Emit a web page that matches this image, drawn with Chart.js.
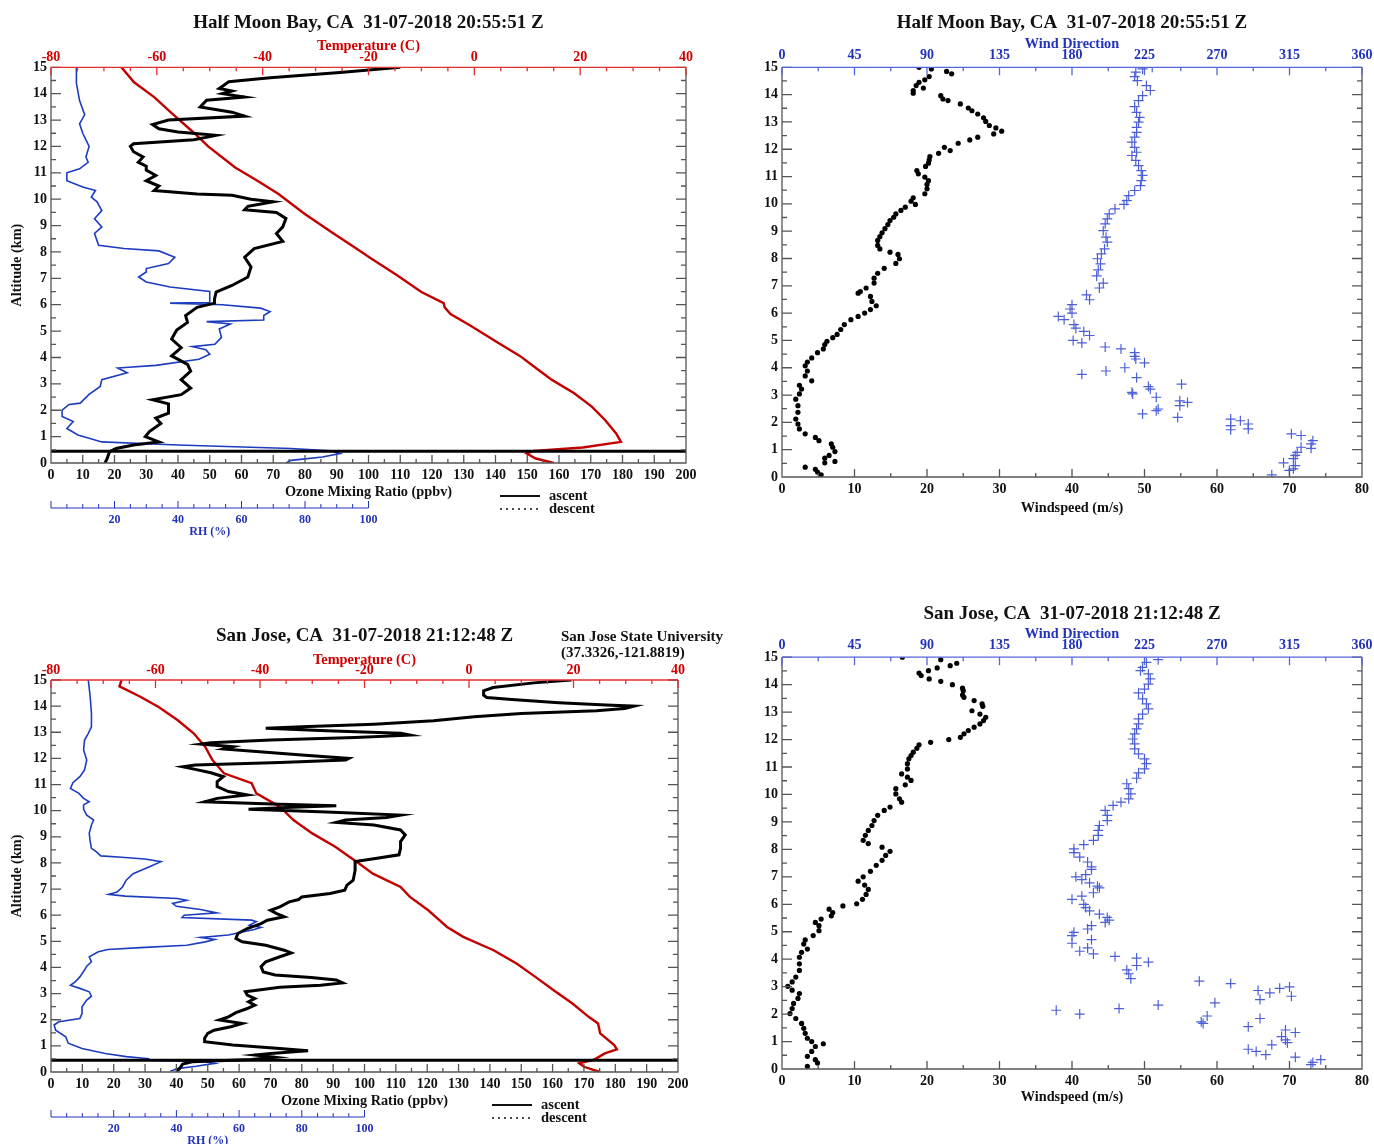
<!DOCTYPE html>
<html>
<head>
<meta charset="utf-8">
<script src="https://cdn.jsdelivr.net/npm/chart.js@4.4.0/dist/chart.umd.min.js"></script>
<style>
  body { margin: 0; background: #fff; overflow: hidden; width: 1374px; height: 1144px; position: relative; }
  canvas { position: absolute; }
  .note { position: absolute; font: bold 15px/16px "Liberation Serif", "Times New Roman", serif; color: #111; white-space: nowrap; }
</style>
</head>
<body>
<canvas id="hmbProfile" width="737" height="548" style="left:0;top:0"></canvas>
<canvas id="hmbWind" width="684" height="548" style="left:730px;top:0"></canvas>
<canvas id="sjProfile" width="729" height="554" style="left:0;top:590px"></canvas>
<canvas id="sjWind" width="684" height="554" style="left:730px;top:590px"></canvas>
<div class="note" style="left:561px;top:628px">San Jose State University<br>(37.3326,-121.8819)</div>
<script>
// ---- Half Moon Bay, 31-07-2018 20:55:51 Z ----
const hmbO3Alt = [15.0, 14.8, 14.6, 14.45, 14.2, 14.1, 14.0, 13.87, 13.75, 13.5, 13.3, 13.15, 13.0, 12.83, 12.67, 12.55, 12.42, 12.25, 12.1, 12.0, 11.8, 11.6, 11.4, 11.25, 11.1, 10.9, 10.7, 10.5, 10.33, 10.2, 10.15, 10.0, 9.9, 9.73, 9.6, 9.5, 9.27, 8.95, 8.7, 8.4, 8.13, 7.8, 7.43, 7.05, 6.73, 6.48, 6.22, 6.06, 5.9, 5.59, 5.33, 5.04, 4.7, 4.37, 4.06, 3.74, 3.48, 3.16, 2.84, 2.59, 2.4, 2.24, 1.89, 1.7, 1.5, 1.19, 1.0, 0.8, 0.68, 0.55, 0.42, 0.17, 0.0];
const hmbO3 = [110, 91, 69, 56, 53, 57, 54, 61, 49, 47, 57, 61, 37, 32, 34, 40, 52, 45, 26, 25, 26, 29, 27.5, 30, 30, 33, 30, 34, 32.5, 46, 57, 63, 70, 62, 61, 71, 74, 73, 71, 73, 64, 61, 63, 62, 57, 52, 51.5, 51.5, 46, 42.4, 43, 39.6, 38, 41, 38, 43, 44, 41, 44, 41, 32, 37, 37, 33, 34.6, 31, 29.7, 34, 26, 20.5, 18.4, 17.7, 17];
const hmbRhAlt = [15.0, 14.4, 13.74, 13.2, 12.86, 12.5, 12.0, 11.6, 11.4, 11.15, 11.0, 10.7, 10.46, 10.33, 10.08, 9.9, 9.57, 9.26, 8.95, 8.7, 8.25, 8.13, 8.04, 7.8, 7.56, 7.37, 7.24, 7.05, 6.86, 6.67, 6.5, 6.22, 6.08, 6.06, 6.0, 5.87, 5.74, 5.59, 5.42, 5.36, 5.27, 5.08, 4.76, 4.5, 4.41, 4.29, 4.12, 3.93, 3.7, 3.6, 3.42, 3.16, 2.9, 2.6, 2.27, 2.22, 2.0, 1.76, 1.57, 1.31, 1.06, 0.8, 0.68, 0.55, 0.46, 0.36, 0.23, 0.1, 0.0];
const hmbRh = [8, 8, 9, 10.6, 9, 10, 12, 11, 11.7, 9, 5, 5, 10, 14, 12.7, 14.5, 16, 13.7, 16, 13.7, 15, 23, 34, 39, 37, 30, 30, 27.6, 30, 37.5, 50, 50, 50, 37.5, 54, 66, 69, 67, 67, 49, 56.5, 53, 53.7, 51.6, 44.5, 48.8, 50, 46.6, 33, 21, 24, 16, 15.5, 12, 9.2, 5.7, 3.5, 3.5, 7, 5, 8.5, 16, 40, 75.6, 88, 91, 85.5, 75.6, 74];
const hmbTAlt = [15.0, 14.43, 13.87, 13.24, 12.5, 12.0, 11.2, 10.7, 10.2, 9.45, 8.7, 8.2, 7.75, 7.12, 6.48, 6.06, 5.9, 5.65, 5.2, 4.57, 4.06, 3.67, 3.16, 2.65, 2.14, 1.63, 1.12, 0.8, 0.59, 0.46, 0.36, 0.17, 0.0];
const hmbT = [-66.7, -64.3, -60.5, -57.1, -52.9, -50.3, -45.2, -41.0, -37.0, -32.1, -26.6, -22.8, -19.5, -14.6, -10, -5.8, -5.6, -4.5, -0.7, 4.4, 8.6, 11.2, 14.6, 18.8, 22.2, 24.7, 26.8, 27.7, 20.5, 11.2, 9.9, 11.6, 15];
const hmbWsAlt = [15.0, 14.94, 14.85, 14.76, 14.66, 14.54, 14.45, 14.33, 14.24, 14.15, 14.05, 13.96, 13.84, 13.78, 13.66, 13.51, 13.41, 13.29, 13.15, 13.02, 12.87, 12.78, 12.66, 12.56, 12.44, 12.34, 12.22, 12.07, 11.95, 11.85, 11.73, 11.61, 11.49, 11.37, 11.22, 11.1, 10.98, 10.85, 10.71, 10.55, 10.37, 10.22, 10.1, 9.98, 9.88, 9.76, 9.63, 9.51, 9.39, 9.24, 9.09, 8.94, 8.8, 8.66, 8.48, 8.35, 8.23, 8.15, 7.99, 7.82, 7.64, 7.46, 7.28, 7.1, 6.92, 6.79, 6.73, 6.61, 6.43, 6.27, 6.13, 6.0, 5.88, 5.76, 5.58, 5.4, 5.22, 5.1, 4.97, 4.85, 4.69, 4.55, 4.36, 4.21, 4.07, 3.88, 3.7, 3.52, 3.36, 3.22, 3.04, 2.85, 2.61, 2.37, 2.12, 1.94, 1.76, 1.58, 1.45, 1.33, 1.21, 1.09, 0.93, 0.79, 0.69, 0.57, 0.52, 0.36, 0.28, 0.18, 0.08];
const hmbWs = [18.9, 20.6, 22.7, 23.4, 20.3, 19.7, 18.9, 18.5, 19.5, 18.1, 18.1, 21.9, 22.2, 22.9, 24.6, 25.7, 26.2, 27.0, 27.8, 28.1, 28.6, 29.5, 30.3, 29.2, 27.0, 25.9, 24.3, 22.4, 23.2, 21.6, 20.4, 20.3, 20.2, 19.8, 18.6, 18.8, 19.7, 20.2, 20.0, 20.0, 19.7, 18.1, 17.8, 18.4, 17.0, 16.4, 15.7, 15.4, 14.9, 14.6, 14.2, 13.8, 13.5, 13.2, 13.2, 13.5, 14.9, 16.0, 16.2, 15.7, 14.1, 13.2, 12.7, 12.7, 11.6, 10.8, 10.5, 12.2, 12.4, 13.0, 12.2, 11.4, 10.5, 9.5, 8.6, 8.1, 7.6, 7.0, 6.2, 5.9, 5.7, 4.9, 4.1, 3.5, 3.2, 3.5, 3.2, 4.1, 2.4, 2.7, 2.4, 1.9, 2.2, 2.2, 1.9, 2.2, 2.4, 3.2, 4.6, 5.1, 6.8, 7.0, 7.3, 6.5, 5.9, 7.3, 5.9, 3.2, 4.6, 4.9, 5.4];
const hmbDirAlt = [15.0, 14.94, 14.82, 14.66, 14.51, 14.33, 14.15, 13.96, 13.78, 13.56, 13.35, 13.17, 12.99, 12.8, 12.62, 12.44, 12.26, 12.07, 11.89, 11.77, 11.59, 11.4, 11.22, 11.04, 10.85, 10.67, 10.49, 10.3, 10.12, 9.98, 9.82, 9.63, 9.45, 9.27, 9.02, 8.78, 8.6, 8.35, 8.17, 7.99, 7.8, 7.58, 7.36, 7.1, 6.92, 6.67, 6.49, 6.31, 6.15, 6.0, 5.88, 5.76, 5.58, 5.45, 5.33, 5.18, 5.0, 4.91, 4.76, 4.69, 4.55, 4.42, 4.32, 4.18, 4.0, 3.88, 3.76, 3.64, 3.4, 3.31, 3.22, 3.1, 3.04, 2.92, 2.79, 2.73, 2.61, 2.49, 2.43, 2.31, 2.18, 2.12, 2.06, 1.94, 1.88, 1.76, 1.73, 1.58, 1.52, 1.33, 1.21, 1.09, 1.05, 0.9, 0.79, 0.67, 0.52, 0.42, 0.3, 0.24, 0.08];
const hmbDir = [229.8, 223.8, 219.6, 218.9, 220.6, 226.2, 228.6, 223.8, 221.3, 218.9, 220.1, 222, 221.3, 220.1, 220.1, 218.9, 217.2, 218.9, 220.1, 217.2, 219.6, 221.3, 223, 223.8, 223, 222.5, 218.9, 215.2, 214, 212.3, 206.7, 203.1, 201.9, 200.6, 199.4, 201.1, 201.9, 200.2, 198.2, 195.8, 197.7, 196.3, 195.3, 199.4, 197.0, 189, 190.9, 180, 178.8, 180, 171.5, 175.1, 181.2, 182.4, 187.3, 190.9, 180.7, 186.1, 200.6, 210.4, 218.9, 218.9, 219.6, 225, 212.8, 201.1, 186.1, 220.1, 248, 227.4, 228.6, 217.2, 217.7, 232.3, 246.9, 251.7, 246.9, 233.5, 232.3, 223.8, 245.6, 278.5, 284.5, 289.4, 278.5, 289.4, 278.5, 316.2, 322.2, 329.5, 328.4, 322.2, 328.4, 319.8, 318.6, 317.4, 311.3, 318.6, 317.4, 314.9, 304];

// ---- San Jose, 31-07-2018 21:12:48 Z ----
const sjO3Alt = [15.0, 14.89, 14.71, 14.59, 14.42, 14.33, 14.25, 14.13, 14.04, 14.0, 13.91, 13.82, 13.72, 13.59, 13.44, 13.31, 13.21, 13.15, 13.06, 12.96, 12.89, 12.8, 12.7, 12.6, 12.55, 12.45, 12.36, 12.26, 12.13, 12.0, 11.94, 11.84, 11.75, 11.68, 11.58, 11.45, 11.3, 11.11, 10.92, 10.73, 10.6, 10.47, 10.34, 10.25, 10.19, 10.13, 10.05, 9.95, 9.83, 9.74, 9.64, 9.55, 9.45, 9.26, 9.07, 8.82, 8.56, 8.31, 8.18, 8.05, 7.86, 7.72, 7.34, 7.15, 6.96, 6.83, 6.7, 6.6, 6.51, 6.32, 6.19, 6.06, 5.94, 5.81, 5.68, 5.49, 5.3, 5.11, 4.98, 4.85, 4.66, 4.56, 4.41, 4.22, 4.03, 3.83, 3.71, 3.62, 3.52, 3.41, 3.32, 3.24, 3.07, 2.94, 2.81, 2.69, 2.56, 2.43, 2.27, 2.11, 1.99, 1.86, 1.73, 1.6, 1.48, 1.29, 1.16, 1.03, 0.9, 0.81, 0.71, 0.65, 0.56, 0.48, 0.39, 0.3, 0.13, 0.0];
const sjO3 = [166, 154, 141, 138, 138, 139, 147, 162, 177, 186, 183, 174, 150, 135, 122, 103, 80, 68.5, 88, 111.5, 114.5, 97, 70, 51, 48, 58, 55, 65.5, 80, 95, 94, 73, 46, 42, 46, 51, 55, 53, 53, 56.6, 62.6, 53, 49, 73, 91, 77, 63, 88, 111.5, 107, 94, 91, 103, 111.5, 113, 111.5, 111.5, 111, 104, 97, 97, 97, 96.4, 94.4, 93.7, 89, 80, 79, 76, 73, 70, 72, 74.4, 69, 67, 62.6, 59.6, 59, 61, 68.5, 74.4, 76.6, 73, 68.5, 67, 67.7, 71.5, 83, 91, 93, 86, 73, 62, 62.6, 65, 63, 65, 62.6, 59, 56.6, 53.7, 61, 57.4, 52, 50, 49, 49, 58, 73, 82, 70, 65, 71.5, 64, 45, 42, 41, 40];
const sjRhAlt = [15.0, 14.36, 13.72, 13.21, 12.96, 12.7, 12.32, 11.94, 11.56, 11.3, 11.07, 10.85, 10.66, 10.47, 10.34, 10.22, 10.05, 9.83, 9.64, 9.45, 9.13, 8.82, 8.56, 8.43, 8.27, 8.22, 8.15, 8.05, 7.85, 7.59, 7.34, 7.08, 6.89, 6.8, 6.73, 6.64, 6.57, 6.45, 6.34, 6.22, 6.09, 6.0, 5.91, 5.81, 5.75, 5.62, 5.53, 5.45, 5.36, 5.24, 5.15, 5.07, 4.98, 4.85, 4.76, 4.69, 4.6, 4.41, 4.22, 4.05, 3.9, 3.64, 3.45, 3.32, 3.2, 3.07, 2.9, 2.75, 2.5, 2.24, 2.05, 1.92, 1.8, 1.6, 1.35, 1.1, 0.9, 0.71, 0.59, 0.51, 0.46, 0.39, 0.33, 0.22, 0.13, 0.03];
const sjRh = [11.9, 12.5, 12.9, 12.9, 11.9, 10.7, 10.4, 11.4, 10.7, 9.2, 7.0, 6.2, 8.9, 10.4, 12.2, 10.4, 10.4, 11.4, 13.6, 12.9, 12.2, 12.5, 12.9, 14.4, 15.9, 22.5, 29.9, 35.1, 31.4, 26.2, 24, 22.8, 21.1, 18.4, 23.7, 40.3, 43.3, 38.8, 40, 47.7, 52.9, 42.5, 41.8, 64, 65.5, 63.3, 67, 64.8, 61.1, 56.6, 47.7, 52.2, 49.2, 43.3, 28.5, 18.1, 15.1, 12.2, 12.9, 11.4, 10.7, 9.2, 7.7, 6.2, 9.2, 12.2, 12.9, 11.4, 9.9, 9.9, 9.2, 2.5, 1.0, 1.5, 4.7, 5.5, 9.9, 17.3, 24, 31.4, 27, 49.2, 52.2, 46.3, 40.3, 38.1];
const sjTAlt = [15.0, 14.76, 14.36, 13.97, 13.47, 12.96, 12.45, 11.94, 11.43, 11.05, 10.66, 10.15, 9.64, 9.13, 8.62, 8.24, 7.99, 7.59, 7.08, 6.7, 6.19, 5.87, 5.55, 5.17, 4.66, 4.15, 3.64, 3.13, 2.62, 2.11, 1.86, 1.48, 1.03, 0.87, 0.71, 0.56, 0.46, 0.33, 0.2, 0.08, 0.0];
const sjT = [-66.5, -66.9, -62.9, -59.4, -55.8, -52.7, -50.5, -49.1, -46.9, -41.6, -40.7, -36.2, -33.6, -30.0, -25.6, -22.9, -21.1, -18.4, -13.1, -11.3, -7.8, -6.0, -4.2, -1.1, 4.7, 9.1, 12.7, 16.2, 19.8, 22.9, 24.7, 25.1, 27.8, 28.3, 26.0, 24.7, 23.8, 21.1, 22.0, 23.8, 25.1];
const sjWsAlt = [15.0, 14.91, 14.78, 14.69, 14.61, 14.51, 14.42, 14.33, 14.21, 14.12, 14.0, 13.87, 13.78, 13.62, 13.54, 13.42, 13.3, 13.21, 13.05, 12.93, 12.81, 12.69, 12.57, 12.45, 12.33, 12.21, 12.08, 12.0, 11.9, 11.81, 11.68, 11.54, 11.42, 11.3, 11.12, 10.93, 10.75, 10.63, 10.51, 10.35, 10.21, 10.02, 9.84, 9.72, 9.54, 9.42, 9.24, 9.05, 8.87, 8.69, 8.51, 8.33, 8.21, 8.08, 7.93, 7.78, 7.6, 7.42, 7.2, 7.0, 6.84, 6.7, 6.54, 6.36, 6.18, 6.02, 5.94, 5.82, 5.7, 5.58, 5.46, 5.34, 5.22, 5.04, 4.86, 4.7, 4.55, 4.37, 4.25, 4.07, 3.83, 3.59, 3.35, 3.17, 3.01, 2.87, 2.75, 2.57, 2.39, 2.2, 2.02, 1.84, 1.66, 1.48, 1.3, 1.12, 1.0, 0.92, 0.82, 0.64, 0.46, 0.34, 0.22, 0.1];
const sjWs = [16.6, 21.9, 24.1, 23.2, 21.4, 20.2, 18.9, 19.2, 20.3, 21.9, 23.5, 24.9, 25.0, 24.9, 25.1, 26.5, 27.6, 27.7, 26.2, 27.3, 28.1, 27.8, 27.3, 26.5, 25.7, 25.1, 24.6, 23.0, 20.5, 18.9, 18.6, 18.1, 17.8, 17.5, 17.3, 17.3, 16.5, 17.3, 17.8, 17.0, 15.7, 15.7, 16.2, 16.5, 14.9, 14.1, 13.2, 12.7, 12.4, 11.9, 11.5, 11.2, 11.9, 13.8, 14.9, 14.3, 13.8, 13.0, 12.2, 11.2, 10.5, 11.4, 11.9, 11.6, 11.1, 10.3, 8.4, 6.5, 7.0, 6.8, 5.4, 4.6, 5.1, 5.1, 4.3, 3.2, 3.0, 3.5, 2.7, 2.4, 2.4, 2.4, 1.9, 1.4, 0.8, 1.4, 2.4, 2.2, 1.6, 1.4, 1.1, 1.9, 2.7, 3.0, 3.2, 3.5, 4.1, 5.7, 4.6, 4.1, 3.5, 4.6, 4.9, 3.5];
const sjDirAlt = [14.91, 14.81, 14.63, 14.51, 14.39, 14.21, 14.02, 13.84, 13.7, 13.48, 13.3, 13.12, 12.93, 12.75, 12.57, 12.39, 12.21, 12.02, 11.84, 11.66, 11.48, 11.3, 11.12, 10.93, 10.79, 10.59, 10.39, 10.21, 10.02, 9.84, 9.72, 9.6, 9.42, 9.24, 9.05, 8.87, 8.69, 8.51, 8.33, 8.17, 8.02, 7.88, 7.72, 7.54, 7.36, 7.27, 7.08, 7.0, 6.9, 6.78, 6.66, 6.6, 6.42, 6.3, 6.18, 6.0, 5.88, 5.76, 5.64, 5.52, 5.42, 5.34, 5.22, 5.1, 4.98, 4.86, 4.71, 4.58, 4.41, 4.29, 4.19, 4.1, 4.04, 3.89, 3.77, 3.61, 3.47, 3.29, 3.2, 3.11, 2.99, 2.94, 2.86, 2.77, 2.65, 2.53, 2.41, 2.33, 2.2, 2.14, 2.0, 1.93, 1.84, 1.72, 1.66, 1.54, 1.42, 1.33, 1.18, 1.06, 0.96, 0.88, 0.72, 0.64, 0.52, 0.43, 0.34, 0.24, 0.16];
const sjDir = [233.5, 226.2, 223.8, 222.5, 227.4, 228.6, 227.4, 225, 221.3, 223.8, 226.2, 227.4, 223.8, 221.3, 221.3, 220.1, 218.9, 217.7, 218.9, 218.9, 221.3, 225, 226.2, 225, 221.3, 220.1, 214, 215.2, 216.5, 215.2, 210.4, 205.5, 200.6, 201.9, 201.9, 197, 196.3, 196.3, 193.3, 187.3, 181.2, 181.2, 184.8, 189.7, 192.1, 192.1, 188.5, 182.4, 186.1, 190.9, 195.8, 197, 193.3, 186.1, 180, 187.3, 188.5, 190.9, 197, 201.9, 203.1, 200.6, 192.1, 189.7, 181.2, 180, 192.1, 180, 189.7, 184.8, 193.3, 206.7, 220.1, 227.4, 220.1, 214, 215.2, 216.5, 259, 278.5, 315, 308.9, 295.5, 302.8, 316.2, 296.7, 268.7, 233.5, 209.2, 170.2, 184.8, 263.9, 296.7, 260.2, 261.4, 289.4, 312.5, 318.6, 310.1, 312.5, 313.7, 304, 289.4, 294.3, 300.3, 318.6, 334.4, 329.5, 328.3];

// launch level line and axis ranges
const groundAlt = 0.45;
const ozoneRange = [0, 200];
const tempRange = [-80, 40];
const rhTicks = [20, 40, 60, 80, 100];
const speedRange = [0, 80];
const dirRange = [0, 360];

const SERIF = '"Liberation Serif", "Times New Roman", serif';
const RED_LINE = '#c20000', RED_TXT = '#d00000';
const BLUE_RH = '#1c3cc0', BLUE_TXT = '#2233bb', CROSS = '#4d5fd6';
const FRAME = '#555';

function pts(xs, ys) {
  return xs.map((v, i) => ({ x: v, y: ys[i] }));
}

// IDL-style frame with inward tick marks on all four sides
const inwardTicks = {
  id: 'inwardTicks',
  afterDatasetsDraw(chart, args, o) {
    const { ctx, chartArea: a, scales } = chart;
    const y = scales.y, bx = scales.x, tx = scales[o.top];
    ctx.save();
    ctx.lineWidth = 1.3;
    ctx.strokeStyle = FRAME;
    ctx.beginPath();
    ctx.moveTo(a.left, a.top); ctx.lineTo(a.left, a.bottom);
    ctx.lineTo(a.right, a.bottom); ctx.lineTo(a.right, a.top);
    for (let i = 0; i <= 30; i++) {
      const p = y.getPixelForValue(i / 2), len = i % 2 ? 5 : 10;
      ctx.moveTo(a.left, p); ctx.lineTo(a.left + len, p);
      ctx.moveTo(a.right, p); ctx.lineTo(a.right - len, p);
    }
    const bn = Math.round((bx.max - bx.min) / o.bottomStep * o.bottomDiv);
    for (let i = 0; i <= bn; i++) {
      const p = bx.getPixelForValue(bx.min + i * o.bottomStep / o.bottomDiv);
      ctx.moveTo(p, a.bottom); ctx.lineTo(p, a.bottom - (i % o.bottomDiv ? 4 : 8));
    }
    ctx.stroke();
    ctx.strokeStyle = o.topColor;
    ctx.beginPath();
    ctx.moveTo(a.left, a.top); ctx.lineTo(a.right, a.top);
    const tn = Math.round((tx.max - tx.min) / o.topStep * o.topDiv);
    for (let i = 0; i <= tn; i++) {
      const p = tx.getPixelForValue(tx.min + i * o.topStep / o.topDiv);
      ctx.moveTo(p, a.top); ctx.lineTo(p, a.top + (i % o.topDiv ? 4 : 8));
    }
    ctx.stroke();
    ctx.restore();
  }
};

// secondary RH axis under the ozone axis, plus the ascent/descent key
const rhAxisAndKey = {
  id: 'rhAxisAndKey',
  afterDraw(chart) {
    const { ctx, chartArea: a, scales: { x } } = chart;
    const y0 = a.bottom + 45;
    ctx.save();
    ctx.strokeStyle = BLUE_TXT;
    ctx.fillStyle = BLUE_TXT;
    ctx.lineWidth = 1;
    ctx.beginPath();
    ctx.moveTo(x.getPixelForValue(0), y0); ctx.lineTo(x.getPixelForValue(100), y0);
    for (let v = 0; v <= 100; v += 5) {
      const p = x.getPixelForValue(v);
      ctx.moveTo(p, y0); ctx.lineTo(p, y0 - (v % 20 ? 4 : 7));
    }
    ctx.stroke();
    ctx.font = 'bold 12px ' + SERIF;
    ctx.textAlign = 'center';
    ctx.textBaseline = 'middle';
    rhTicks.forEach(v => ctx.fillText(String(v), x.getPixelForValue(v), y0 + 12));
    ctx.fillText('RH (%)', x.getPixelForValue(50), y0 + 24);

    // key
    const kx = a.right - 186;
    ctx.strokeStyle = '#111';
    ctx.fillStyle = '#111';
    ctx.lineWidth = 2;
    ctx.beginPath(); ctx.moveTo(kx, a.bottom + 33); ctx.lineTo(kx + 40, a.bottom + 33); ctx.stroke();
    ctx.lineWidth = 1.5;
    ctx.setLineDash([2, 4]);
    ctx.beginPath(); ctx.moveTo(kx, a.bottom + 46); ctx.lineTo(kx + 40, a.bottom + 46); ctx.stroke();
    ctx.setLineDash([]);
    ctx.font = 'bold 14.5px ' + SERIF;
    ctx.textAlign = 'left';
    ctx.fillText('ascent', kx + 49, a.bottom + 33);
    ctx.fillText('descent', kx + 49, a.bottom + 46);
    ctx.restore();
  }
};

const tickFont = { family: SERIF, size: 14, weight: 'bold' };
const axisFont = { family: SERIF, size: 14.3, weight: 'bold' };

function baseOptions(cfg) {
  return {
    responsive: false,
    animation: false,
    layout: { padding: { top: 0, left: 0, right: 0, bottom: cfg.padBottom } },
    plugins: {
      legend: { display: false },
      tooltip: { enabled: false },
      title: {
        display: true, text: cfg.title, color: '#111',
        font: { family: SERIF, size: 19, weight: 'bold' },
        padding: { top: cfg.titleTop, bottom: 0 }
      },
      inwardTicks: cfg.ticks
    },
    scales: {
      x: {
        type: 'linear', position: 'bottom', min: cfg.xRange[0], max: cfg.xRange[1],
        ticks: { stepSize: cfg.xStep, autoSkip: false, maxRotation: 0, padding: 4, color: '#111', font: tickFont },
        grid: { display: false, drawTicks: false }, border: { display: false },
        title: { display: true, text: cfg.xTitle, color: '#111', font: axisFont, padding: { top: 0, bottom: cfg.xTitlePad } },
        afterFit: s => { s.height = 40; }
      },
      [cfg.topId]: {
        type: 'linear', position: 'top', min: cfg.topRange[0], max: cfg.topRange[1],
        ticks: { stepSize: cfg.topStep, autoSkip: false, maxRotation: 0, padding: cfg.topLabelPad, color: cfg.topColor, font: tickFont },
        grid: { display: false, drawTicks: false }, border: { display: false },
        title: { display: true, text: cfg.topTitle, color: cfg.topColor, font: axisFont, padding: { top: cfg.topTitlePad, bottom: 0 } },
        afterFit: s => { s.height = cfg.topH; }
      },
      y: {
        type: 'linear', position: 'left', min: 0, max: 15,
        ticks: { stepSize: 1, autoSkip: false, padding: 4, color: '#111', font: tickFont },
        grid: { display: false, drawTicks: false }, border: { display: false },
        title: { display: cfg.yTitle, text: 'Altitude (km)', color: '#111', font: axisFont, padding: { top: 9, bottom: 0 } },
        afterFit: s => { s.width = cfg.side; }
      },
      yR: {
        type: 'linear', position: 'right', min: 0, max: 15,
        ticks: { display: false }, grid: { display: false, drawTicks: false }, border: { display: false },
        afterFit: s => { s.width = cfg.side; }
      }
    }
  };
}

function profileChart(id, cfg) {
  const opts = baseOptions(Object.assign({
    xRange: ozoneRange, xStep: 10, xTitle: 'Ozone Mixing Ratio (ppbv)',
    topId: 'xT', topRange: tempRange, topStep: 20, topTitle: 'Temperature (C)', topColor: RED_TXT,
    yTitle: true, side: 51,
    ticks: { top: 'xT', topStep: 20, topDiv: 4, bottomStep: 10, bottomDiv: 2, topColor: '#e03030' }
  }, cfg));
  return new Chart(document.getElementById(id), {
    type: 'scatter',
    data: {
      datasets: [
        { label: 'Ozone', data: pts(cfg.o3, cfg.o3Alt), xAxisID: 'x', showLine: true, borderColor: '#000', borderWidth: 3, pointRadius: 0 },
        { label: 'Launch level', data: pts(ozoneRange, [groundAlt, groundAlt]), xAxisID: 'x', showLine: true, borderColor: '#000', borderWidth: 3, pointRadius: 0 },
        { label: 'Temperature', data: pts(cfg.t, cfg.tAlt), xAxisID: 'xT', showLine: true, borderColor: RED_LINE, borderWidth: 2.4, pointRadius: 0 },
        { label: 'RH', data: pts(cfg.rh, cfg.rhAlt), xAxisID: 'x', showLine: true, borderColor: BLUE_RH, borderWidth: 1.6, pointRadius: 0 }
      ]
    },
    options: opts,
    plugins: [inwardTicks, rhAxisAndKey]
  });
}

function windChart(id, cfg) {
  const opts = baseOptions(Object.assign({
    xRange: speedRange, xStep: 10, xTitle: 'Windspeed (m/s)',
    topId: 'xD', topRange: dirRange, topStep: 45, topTitle: 'Wind Direction', topColor: BLUE_TXT,
    yTitle: false, side: 52,
    ticks: { top: 'xD', topStep: 45, topDiv: 2, bottomStep: 10, bottomDiv: 2, topColor: '#5566dd' }
  }, cfg));
  return new Chart(document.getElementById(id), {
    type: 'scatter',
    data: {
      datasets: [
        { label: 'Windspeed', data: pts(cfg.ws, cfg.wsAlt), xAxisID: 'x', pointStyle: 'circle', pointRadius: 2.6, backgroundColor: '#000', borderWidth: 0 },
        { label: 'Wind direction', data: pts(cfg.dir, cfg.dirAlt), xAxisID: 'xD', pointStyle: 'cross', pointRadius: 5, borderColor: CROSS, borderWidth: 1.2 }
      ]
    },
    options: opts,
    plugins: [inwardTicks]
  });
}

profileChart('hmbProfile', {
  title: 'Half Moon Bay, CA  31-07-2018 20:55:51 Z',
  titleTop: 11.3, topH: 33.2, topTitlePad: 3.8, topLabelPad: 2, xTitlePad: 2.4, padBottom: 45,
  o3: hmbO3, o3Alt: hmbO3Alt, rh: hmbRh, rhAlt: hmbRhAlt, t: hmbT, tAlt: hmbTAlt
});
windChart('hmbWind', {
  title: 'Half Moon Bay, CA  31-07-2018 20:55:51 Z',
  titleTop: 11.9, topH: 32.6, topTitlePad: 1.5, topLabelPad: 3.6, xTitlePad: 0.4, padBottom: 31,
  ws: hmbWs, wsAlt: hmbWsAlt, dir: hmbDir, dirAlt: hmbDirAlt
});
profileChart('sjProfile', {
  title: 'San Jose, CA  31-07-2018 21:12:48 Z',
  titleTop: 34.6, topH: 32.6, topTitlePad: 4.5, topLabelPad: 1, xTitlePad: 2.4, padBottom: 32,
  o3: sjO3, o3Alt: sjO3Alt, rh: sjRh, rhAlt: sjRhAlt, t: sjT, tAlt: sjTAlt
});
windChart('sjWind', {
  title: 'San Jose, CA  31-07-2018 21:12:48 Z',
  titleTop: 12.6, topH: 31.8, topTitlePad: 0.5, topLabelPad: 3.6, xTitlePad: 3.4, padBottom: 35,
  ws: sjWs, wsAlt: sjWsAlt, dir: sjDir, dirAlt: sjDirAlt
});
</script>
</body>
</html>
